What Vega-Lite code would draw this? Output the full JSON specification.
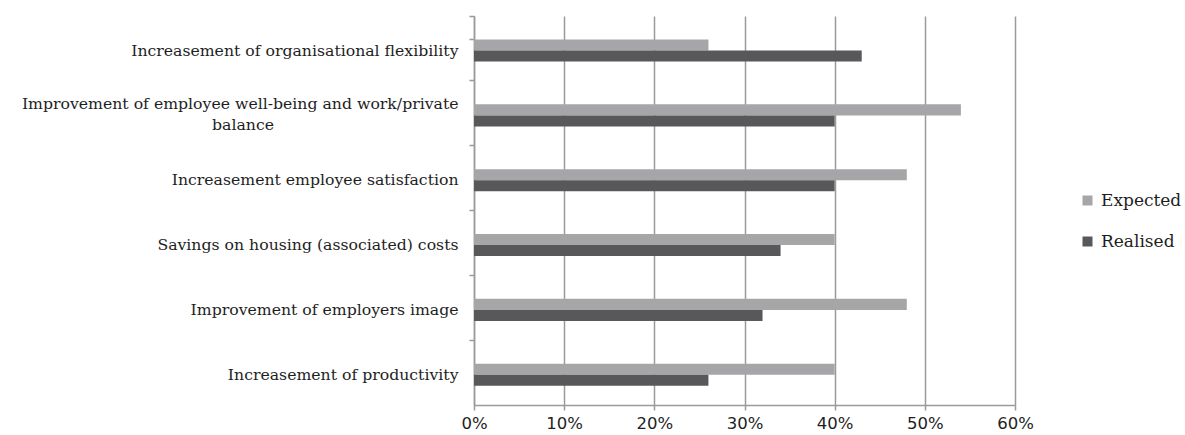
{
  "$schema": "https://vega.github.io/schema/vega-lite/v6.json",
  "width": 541,
  "height": 389,
  "autosize": {"type": "none"},
  "padding": {"left": 474, "top": 16, "right": 170, "bottom": 30},
  "background": "white",
  "data": {
    "values": [
      {"item": "Increasement of organisational flexibility", "series": "Expected", "value": 0.26},
      {"item": "Increasement of organisational flexibility", "series": "Realised", "value": 0.43},
      {"item": "Improvement of employee well-being and work/private balance", "series": "Expected", "value": 0.54},
      {"item": "Improvement of employee well-being and work/private balance", "series": "Realised", "value": 0.40},
      {"item": "Increasement employee satisfaction", "series": "Expected", "value": 0.48},
      {"item": "Increasement employee satisfaction", "series": "Realised", "value": 0.40},
      {"item": "Savings on housing (associated) costs", "series": "Expected", "value": 0.40},
      {"item": "Savings on housing (associated) costs", "series": "Realised", "value": 0.34},
      {"item": "Improvement of employers image", "series": "Expected", "value": 0.48},
      {"item": "Improvement of employers image", "series": "Realised", "value": 0.32},
      {"item": "Increasement of productivity", "series": "Expected", "value": 0.40},
      {"item": "Increasement of productivity", "series": "Realised", "value": 0.26}
    ]
  },
  "mark": {"type": "bar"},
  "encoding": {
    "y": {
      "field": "item",
      "type": "nominal",
      "sort": [
        "Increasement of organisational flexibility",
        "Improvement of employee well-being and work/private balance",
        "Increasement employee satisfaction",
        "Savings on housing (associated) costs",
        "Improvement of employers image",
        "Increasement of productivity"
      ],
      "scale": {"paddingInner": 0.66, "paddingOuter": 0.33, "align": 0.55},
      "axis": {
        "title": null,
        "bandPosition": -1.067,
        "tickExtra": true,
        "tickSize": 5,
        "tickColor": "#9a9a9a",
        "tickWidth": 1.5,
        "domainColor": "#9a9a9a",
        "domainWidth": 1.5,
        "grid": false,
        "labelPadding": 11,
        "labelFont": "DejaVu Serif",
        "labelFontSize": 15.7,
        "labelColor": "#1e1e1e",
        "labelLineHeight": 21,
        "labelLimit": 0,
        "labelOffset": {"condition": {"test": "datum.value == 'Improvement of employee well-being and work/private balance'", "value": -11}, "value": 0},
        "labelExpr": "datum.label == 'Improvement of employee well-being and work/private balance' ? ['Improvement of employee well-being and work/private', pad('balance', 44, '\u00a0', 'right') + '\u2060'] : datum.label"
      }
    },
    "yOffset": {
      "field": "series",
      "sort": ["Expected", "Realised"],
      "scale": {"paddingInner": 0, "paddingOuter": 0}
    },
    "x": {
      "field": "value",
      "type": "quantitative",
      "scale": {"domain": [0, 0.6], "nice": false},
      "axis": {
        "title": null,
        "values": [0, 0.1, 0.2, 0.3, 0.4, 0.5, 0.6],
        "format": ".0%",
        "labelFlush": false,
        "grid": true,
        "gridColor": "#9a9a9a",
        "gridWidth": 1.5,
        "domainColor": "#9a9a9a",
        "domainWidth": 1.5,
        "tickColor": "#9a9a9a",
        "tickWidth": 1.5,
        "tickSize": 5,
        "labelPadding": 5,
        "labelFont": "DejaVu Sans",
        "labelFontSize": 16.5,
        "labelColor": "#1e1e1e"
      }
    },
    "color": {
      "field": "series",
      "type": "nominal",
      "sort": ["Expected", "Realised"],
      "scale": {"domain": ["Expected", "Realised"], "range": ["#a6a6a8", "#58585a"]},
      "legend": {
        "title": null,
        "orient": "none",
        "legendX": 605,
        "legendY": 176,
        "symbolType": "square",
        "symbolSize": 100,
        "symbolStrokeWidth": 0,
        "labelFont": "DejaVu Serif",
        "labelFontSize": 17,
        "labelColor": "#1e1e1e",
        "labelOffset": 5,
        "rowPadding": 23,
        "padding": 0
      }
    }
  },
  "config": {"view": {"stroke": null}}
}
